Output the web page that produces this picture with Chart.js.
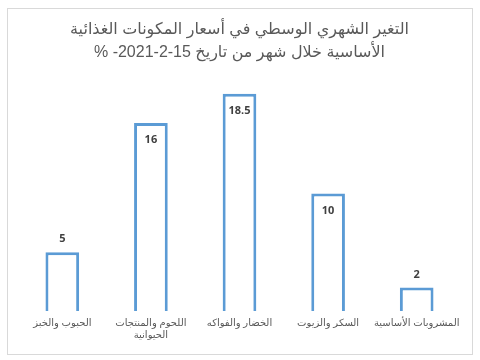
<!DOCTYPE html>
<html>
<head>
<meta charset="utf-8">
<script src="https://cdn.jsdelivr.net/npm/chart.js@4/dist/chart.umd.min.js"></script>
<style>
  body { margin: 0; background: #fff; }
  #box { position: absolute; left: 7px; top: 8px; width: 466px; height: 347px; box-sizing: border-box; border: 1px solid #d9d9d9; }
  #chart { direction: rtl; }
</style>
</head>
<body>
<div id="box"><canvas id="chart"></canvas></div>
<script>
const titleLines = ['التغير الشهري الوسطي في أسعار المكونات الغذائية', 'الأساسية خلال شهر من تاريخ 15-2-2021- %']
const categories = ['الحبوب والخبز', ['اللحوم والمنتجات', 'الحيوانية'], 'الخضار والفواكه', 'السكر والزيوت', 'المشروبات الأساسية']
const values = [5, 16, 18.5, 10, 2]

const arabicFont = "Arial, 'DejaVu Sans', sans-serif"

const valueLabels = {
  id: 'valueLabels',
  afterDatasetsDraw(chart) {
    const ctx = chart.ctx
    const meta = chart.getDatasetMeta(0)
    ctx.save()
    ctx.font = "bold 11px 'Open Sans', sans-serif"
    ctx.fillStyle = '#404040'
    ctx.textAlign = 'center'
    ctx.textBaseline = 'middle'
    meta.data.forEach((bar, i) => {
      const v = values[i]
      const y = v < 8 ? bar.y - 13 : bar.y + 17
      ctx.fillText(String(v), bar.x, y)
    })
    ctx.restore()
  }
}

new Chart(document.querySelector('#chart'), {
  type: 'bar',
  data: {
    labels: categories,
    datasets: [{
      data: values,
      backgroundColor: '#ffffff',
      borderColor: '#5B9BD5',
      borderWidth: 3,
      barPercentage: 0.38,
      categoryPercentage: 1
    }]
  },
  options: {
    responsive: true,
    maintainAspectRatio: false,
    animation: false,
    layout: {
      padding: { left: 10, right: 11, top: 0, bottom: 7 }
    },
    scales: {
      x: {
        grid: { display: false, drawTicks: false, tickLength: 0 },
        border: { display: false },
        ticks: {
          color: '#595959',
          font: { size: 10, family: arabicFont },
          padding: 6,
          maxRotation: 0,
          autoSkip: false
        }
      },
      y: {
        display: false,
        min: 0,
        max: 20
      }
    },
    plugins: {
      legend: false,
      tooltip: { enabled: false },
      title: {
        display: true,
        text: titleLines,
        color: '#595959',
        font: { size: 16, weight: 'normal', family: arabicFont, lineHeight: 1.44 },
        padding: { top: 9, bottom: 12 }
      }
    }
  },
  plugins: [valueLabels]
})
</script>
</body>
</html>
